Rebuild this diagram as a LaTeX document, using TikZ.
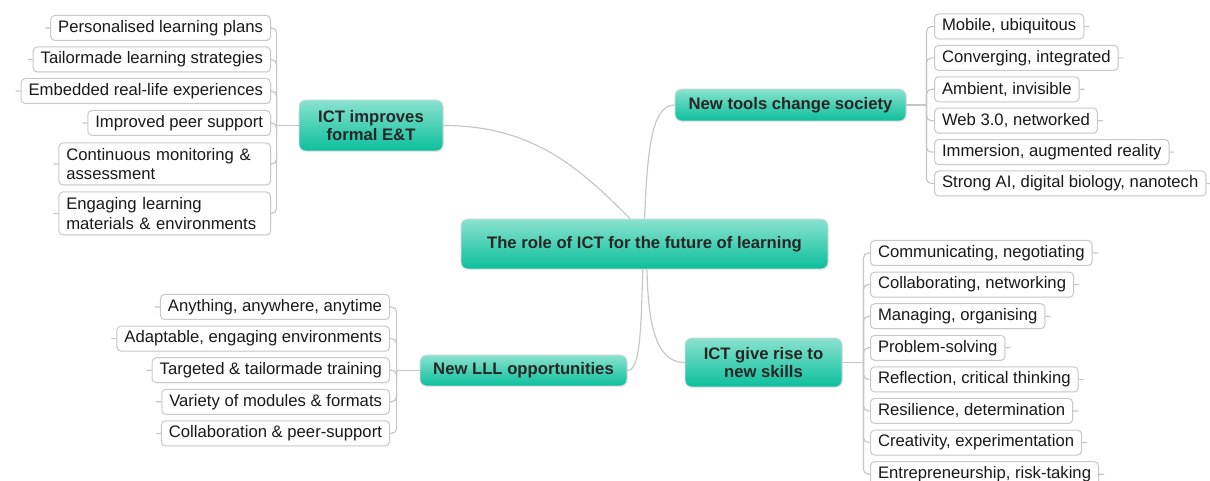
\documentclass[tikz,border=0pt]{standalone}
\usepackage{fontspec}
\setmainfont{Liberation Sans}
\usetikzlibrary{shadows}
\definecolor{topictop}{HTML}{8AE2CF}
\definecolor{topicbot}{HTML}{0ABF9C}
\definecolor{linegray}{HTML}{C6C6C6}
\definecolor{boxgray}{HTML}{C9C9C9}
\definecolor{inkgray}{HTML}{262626}
\tikzset{
  topic/.style={rectangle, rounded corners=4pt, draw=black!14, line width=0.5pt,
    top color=topictop, middle color=topicbot, bottom color=topicbot,
    text=inkgray, align=center, inner sep=0pt,
    font=\fontsize{10pt}{11pt}\selectfont\bfseries,
    drop shadow={opacity=0.15, shadow xshift=0.6pt, shadow yshift=-0.6pt}},
  leaf/.style={rectangle, rounded corners=2.5pt, draw=boxgray, line width=0.6pt,
    fill=white, text=black!90, inner xsep=4.5pt, inner ysep=0pt,
    minimum height=15pt, font=\fontsize{10pt}{11.5pt}\selectfont,
    drop shadow={opacity=0.08, shadow xshift=0.5pt, shadow yshift=-0.5pt}},
  link/.style={draw=linegray, line width=0.7pt},
}
\begin{document}
\begin{tikzpicture}[x=0.6pt, y=-0.6pt]
    \useasboundingbox (0,0) rectangle (1210,481);
    \clip (0,0) rectangle (1210,481);

    \node[topic, minimum width=220.2pt, minimum height=30pt] (core) at (644.5,244) {The role of ICT for the future of learning};
    \node[topic, minimum width=86.4pt, minimum height=30.6pt] (formal) at (371,125.5) {ICT improves\\formal E\&T};
    \node[topic, minimum width=138.6pt, minimum height=19.2pt] (tools) at (790.5,105) {New tools change society};
    \node[topic, minimum width=124.2pt, minimum height=18.6pt] (lll) at (523.5,370.5) {New LLL opportunities};
    \node[topic, minimum width=94.2pt, minimum height=29.4pt] (skills) at (763.5,362.5) {ICT give rise to\\new skills};

    \node[leaf, anchor=east] (f1) at (271,28) {Personalised learning plans};
    \node[leaf, anchor=east] (f2) at (271,59.5) {Tailormade learning strategies};
    \node[leaf, anchor=east] (f3) at (271,91) {Embedded real-life experiences};
    \node[leaf, anchor=east] (f4) at (271,123) {Improved peer support};
    \node[leaf, anchor=east, text width=118pt, align=left, minimum height=25.2pt] (f5) at (271,164) {Continuous monitoring \&\\assessment};
    \node[leaf, anchor=east, text width=118pt, align=left, minimum height=25.8pt] (f6) at (271,213.5) {Engaging learning\\materials \& environments};

    \foreach \txt [count=\i] in {{Mobile, ubiquitous}, {Converging, integrated}, {Ambient, invisible},
        {Web 3.0, networked}, {Immersion, augmented reality}, {Strong AI, digital biology, nanotech}}
        \node[leaf, anchor=west] (t\i) at (934,{26.5+31.4*(\i-1)}) {\txt};

    \foreach \txt [count=\i] in {{Anything, anywhere, anytime}, {Adaptable, engaging environments},
        {Targeted \& tailormade training}, {Variety of modules \& formats}, {Collaboration \& peer-support}}
        \node[leaf, anchor=east] (l\i) at (390,{307+31.6*(\i-1)}) {\txt};

    \foreach \txt [count=\i] in {{Communicating, negotiating}, {Collaborating, networking}, {Managing, organising},
        {Problem-solving}, {Reflection, critical thinking}, {Resilience, determination},
        {Creativity, experimentation}, {Entrepreneurship, risk-taking}}
        \node[leaf, anchor=west] (s\i) at (870,{253+31.6*(\i-1)}) {\txt};

    \coordinate (jf) at ([xshift=-13.2pt]formal.west);
    \coordinate (jt) at ([xshift=12pt]tools.east);
    \coordinate (jl) at ([xshift=-13.8pt]lll.west);
    \coordinate (js) at ([xshift=12.6pt]skills.east);

    \draw[link] (formal.west) -- (jf);
    \foreach \i in {1,...,6}
        \draw[link, rounded corners=3pt] (f\i.east) -| (jf) (f\i.west) -- +(-5,0);
    \draw[link] (tools.east) -- (jt);
    \foreach \i in {1,...,6}
        \draw[link, rounded corners=3pt] (t\i.west) -| (jt) (t\i.east) -- +(5,0);
    \draw[link] (lll.west) -- (jl);
    \foreach \i in {1,...,5}
        \draw[link, rounded corners=3pt] (l\i.east) -| (jl) (l\i.west) -- +(-5,0);
    \draw[link] (skills.east) -- (js);
    \foreach \i in {1,...,8}
        \draw[link, rounded corners=3pt] (s\i.west) -| (js) (s\i.east) -- +(5,0);

    \coordinate (c1) at ([xshift=-8.7pt]core.north);
    \coordinate (c2) at (core.north);
    \coordinate (c3) at ([xshift=-1pt]core.south);
    \coordinate (c4) at ([xshift=1.5pt]core.south);
    \draw[link] (formal.east) .. controls +(90,0) and +(-50,-50) .. (c1);
    \draw[link] (c2) .. controls +(3,-69) and +(-23,0) .. (tools.west);
    \draw[link] (c3) .. controls +(-2,61) and +(13,0) .. (lll.east);
    \draw[link] (c4) .. controls +(1,51) and +(-30,0) .. (skills.west);
\end{tikzpicture}
\end{document}
